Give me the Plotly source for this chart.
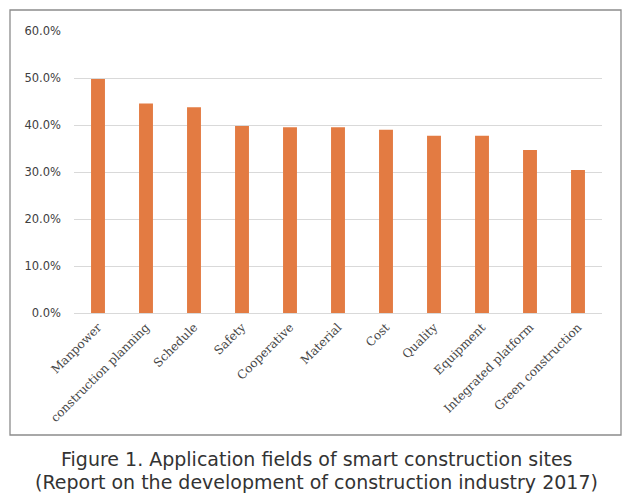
import plotly.graph_objects as go

categories = ["Manpower", "construction planning", "Schedule", "Safety", "Cooperative",
              "Material", "Cost", "Quality", "Equipment", "Integrated platform",
              "Green construction"]
values = [0.498, 0.446, 0.438, 0.398, 0.395, 0.395, 0.390, 0.377, 0.377, 0.347, 0.304]
y_ticks = [0, 0.1, 0.2, 0.3, 0.4, 0.5, 0.6]
y_tick_labels = ["0.0%", "10.0%", "20.0%", "30.0%", "40.0%", "50.0%", "60.0%"]
caption_lines = ["Figure 1. Application fields of smart construction sites",
                 "(Report on the development of construction industry 2017)"]

W, H = 641, 500
L, R, T, B = 74, 39, 31, 187
pw, ph = W - L - R, H - T - B

def px_x(x):
    return (x - L) / pw

def px_y(y):
    return (H - B - y) / ph

fig = go.Figure(go.Bar(x=categories, y=values, marker_color="#E37B42",
                       marker_line_width=0))

fig.update_layout(
    width=W, height=H,
    margin=dict(l=L, r=R, t=T, b=B),
    paper_bgcolor="white", plot_bgcolor="white",
    bargap=0.71,
    showlegend=False,
    shapes=[dict(type="rect", xref="paper", yref="paper",
                 x0=px_x(10), x1=px_x(621), y0=px_y(435), y1=px_y(10),
                 line=dict(color="#8c8c8c", width=1.3), fillcolor="rgba(0,0,0,0)")],
    annotations=[
        dict(text=caption_lines[0], xref="paper", yref="paper", x=px_x(316), y=px_y(459),
             showarrow=False, xanchor="center", yanchor="middle",
             font=dict(family="DejaVu Sans", size=19, color="#333333")),
        dict(text=caption_lines[1], xref="paper", yref="paper", x=px_x(316), y=px_y(482),
             showarrow=False, xanchor="center", yanchor="middle",
             font=dict(family="DejaVu Sans", size=19, color="#333333")),
    ],
)

fig.update_xaxes(tickangle=-45, showline=False, showgrid=False, ticklabelstandoff=4,
                 tickfont=dict(family="DejaVu Serif", size=12, color="#474747"))
fig.update_yaxes(range=[0, 0.6], tickvals=y_ticks, ticktext=y_tick_labels,
                 showgrid=True, gridcolor="#d9d9d9", gridwidth=1,
                 zeroline=True, zerolinecolor="#d9d9d9", zerolinewidth=1,
                 showline=False, ticklabelstandoff=12,
                 tickfont=dict(family="DejaVu Sans", size=11.5, color="#404040"))

fig.write_html("out.html", config={"displayModeBar": False},
               post_script="document.body.style.margin='0';")
